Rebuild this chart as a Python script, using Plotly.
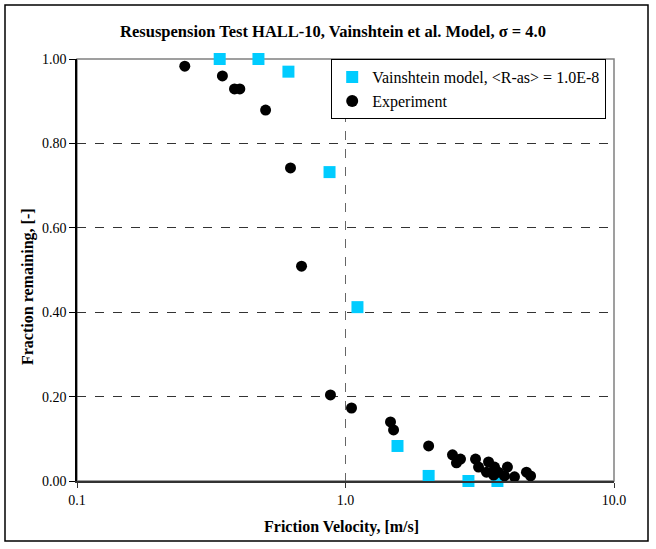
import plotly.graph_objects as go

# Vainshtein model prediction (friction velocity in m/s, fraction remaining)
model_u = [0.340, 0.474, 0.613, 0.872, 1.108, 1.562, 2.04, 2.87, 3.68]
model_f = [1.00, 1.00, 0.97, 0.732, 0.412, 0.083, 0.012, 0.0, 0.0]

# HALL-10 experimental data
exp_u = [0.252, 0.348, 0.386, 0.404, 0.504, 0.624, 0.686, 0.879, 1.053,
         1.471, 1.510, 2.04, 2.503, 2.590, 2.681, 3.05, 3.13, 3.41, 3.35,
         3.59, 3.56, 3.71, 4.01, 3.91, 4.26, 4.72, 4.89]
exp_f = [0.983, 0.960, 0.929, 0.929, 0.879, 0.742, 0.509, 0.204, 0.173,
         0.140, 0.121, 0.083, 0.062, 0.043, 0.052, 0.052, 0.033, 0.045, 0.021,
         0.033, 0.014, 0.021, 0.033, 0.012, 0.010, 0.021, 0.012]

x_ticks = [0.1, 1.0, 10.0]
x_tick_labels = ["0.1", "1.0", "10.0"]
y_ticks = [0.0, 0.2, 0.4, 0.6, 0.8, 1.0]
y_tick_labels = ["0.00", "0.20", "0.40", "0.60", "0.80", "1.00"]

SERIF = "Liberation Serif, Times New Roman, serif"

W, H = 656, 549
ML, MR, MT, MB = 77, 42, 59, 68

fig = go.Figure()
fig.add_trace(go.Scatter(
    x=model_u, y=model_f, mode="markers",
    name="Vainshtein model, <R-as> = 1.0E-8",
    marker=dict(symbol="square", size=12, color="#00CCFF"),
    cliponaxis=False,
))
fig.add_trace(go.Scatter(
    x=exp_u, y=exp_f, mode="markers", name="Experiment",
    marker=dict(symbol="circle", size=11, color="black"),
    cliponaxis=False,
))

pw = W - ML - MR
ph = H - MT - MB


def px_x(p):
    return (p - ML) / pw


def px_y(p):
    return (H - MB - p) / ph


shapes = [
    # grey frame of the plotting area
    dict(type="rect", xref="paper", yref="paper", x0=0, x1=1, y0=0, y1=1,
         line=dict(color="#808080", width=1.5), layer="below"),
    # outer border around the whole chart
    dict(type="rect", xref="paper", yref="paper",
         x0=px_x(5), x1=px_x(648), y0=px_y(541), y1=px_y(5),
         line=dict(color="black", width=1.5)),
]

annotations = [
    dict(text="<b>Friction Velocity, [m/s]</b>", xref="paper", yref="paper",
         x=px_x(341), y=px_y(527), xanchor="center", yanchor="middle",
         showarrow=False, font=dict(size=16, family=SERIF)),
    dict(text="<b>Fraction remaining, [-]</b>", xref="paper", yref="paper",
         x=px_x(28), y=px_y(287), xanchor="center", yanchor="middle",
         textangle=-90, showarrow=False, font=dict(size=16, family=SERIF)),
]

fig.update_layout(
    width=W, height=H,
    margin=dict(l=ML, r=MR, t=MT, b=MB),
    paper_bgcolor="white", plot_bgcolor="white",
    font=dict(family=SERIF, color="black", size=14),
    title=dict(
        text="<b>Resuspension Test HALL-10, Vainshtein et al. Model, σ = 4.0</b>",
        x=333 / W, xanchor="center", y=1 - 31 / H, yanchor="middle",
        font=dict(size=16.5, family=SERIF),
    ),
    showlegend=True,
    legend=dict(
        x=px_x(331), y=1.0, xanchor="left", yanchor="top",
        bgcolor="white", bordercolor="black", borderwidth=1.2,
        font=dict(size=16, family=SERIF), tracegroupgap=0,
        itemsizing="constant",
    ),
    shapes=shapes,
    annotations=annotations,
)

fig.update_xaxes(
    type="log", range=[-1, 1],
    tickvals=x_ticks, ticktext=x_tick_labels,
    showline=True, linecolor="#333333", linewidth=1.5,
    ticks="outside", ticklen=5, tickcolor="#333333",
    showgrid=True, gridcolor="#666666", griddash="dash", gridwidth=1.2,
    zeroline=False,
    tickfont=dict(size=14, family=SERIF),
)
fig.update_yaxes(
    range=[0, 1],
    tickvals=y_ticks, ticktext=y_tick_labels,
    showline=True, linecolor="black", linewidth=1.5,
    ticks="outside", ticklen=6, tickcolor="black",
    showgrid=True, gridcolor="#333333", griddash="dash", gridwidth=1,
    zeroline=False,
    tickfont=dict(size=14, family=SERIF),
)

fig.write_html("out.html")
